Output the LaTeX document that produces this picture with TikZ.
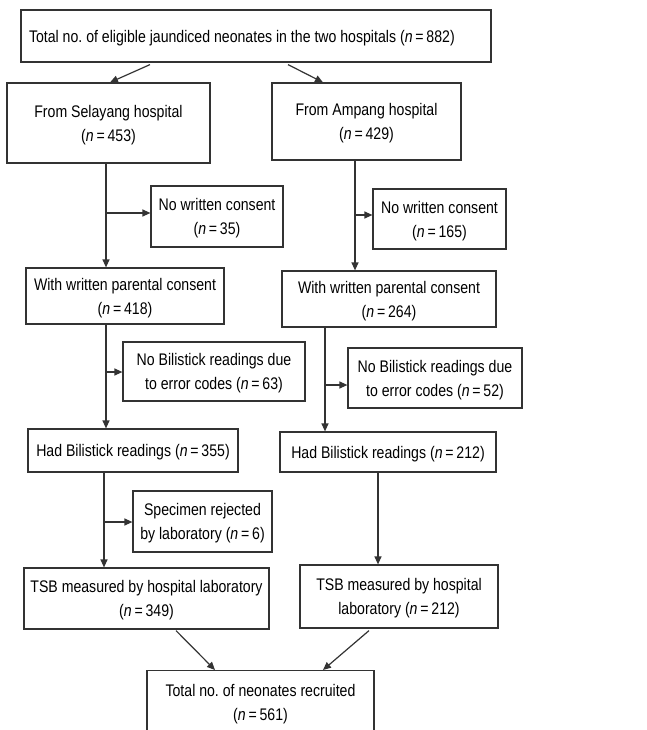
\documentclass[tikz,border=0pt]{standalone}
\usepackage{fontspec}
\setmainfont{Liberation Sans}[FakeStretch=0.84]
\usetikzlibrary{arrows.meta}
\begin{document}
\frenchspacing
\begin{tikzpicture}[x=1pt,y=-1pt,
  box/.style={draw=black!80, line width=1.2pt, align=center, inner sep=0pt, text depth=0pt, font=\fontsize{16.8}{24}\selectfont},
  lower/.style={text depth=-8pt},
  arr/.style={draw=black!80, line width=1.2pt, -{Triangle[length=8pt,width=7pt]}}]
\useasboundingbox (0,0) rectangle (646,730);
\clip (0,0) rectangle (646,730);
\newcommand{\nn}{(\textit{n}\,=\,}
% boxes
\node[box, minimum height=52, text width=454pt, inner xsep=8pt, align=flush left] (top) at (256,36) {Total no. of eligible jaundiced neonates in the two hospitals \nn882)};
\node[box, lower, minimum width=203, minimum height=80] (sel) at (108.5,123) {From Selayang hospital\\\nn453)};
\node[box, lower, minimum width=189, minimum height=77] (amp) at (366.5,121.5) {From Ampang hospital\\\nn429)};
\node[box, minimum width=132, minimum height=61] (nw1) at (217,216.5) {No written consent\\\nn35)};
\node[box, minimum width=133, minimum height=60] (nw2) at (439.5,219) {No written consent\\\nn165)};
\node[box, text depth=-5pt, minimum width=198, minimum height=56] (con1) at (125,296) {With written parental consent\\\nn418)};
\node[box, minimum width=214, minimum height=56] (con2) at (389,299) {With written parental consent\\\nn264)};
\node[box, minimum width=182, minimum height=59] (nb1) at (214,371.5) {No Bilistick readings due\\to error codes \nn63)};
\node[box, minimum width=174, minimum height=60] (nb2) at (435,378) {No Bilistick readings due\\to error codes \nn52)};
\node[box, minimum width=210, minimum height=43] (had1) at (133,450.5) {Had Bilistick readings \nn355)};
\node[box, minimum width=216, minimum height=40] (had2) at (388,452) {Had Bilistick readings \nn212)};
\node[box, minimum width=139, minimum height=61] (rej) at (202.5,521.5) {Specimen rejected\\by laboratory \nn6)};
\node[box, minimum width=245, minimum height=61] (tsb1) at (146.5,598.5) {TSB measured by hospital laboratory\\\nn349)};
\node[box, minimum width=198, minimum height=63] (tsb2) at (399,596.5) {TSB measured by hospital\\laboratory \nn212)};
\node[box, minimum width=227, minimum height=100, anchor=north] (fin) at (260.5,670) {};
\node[box, draw=none] (fintext) at (260.5,702) {Total no. of neonates recruited\\\nn561)};
% diagonal arrows
\draw[arr] ([xshift=-106pt,yshift=-2pt]top.south) -- ([xshift=1.5pt]sel.north);
\draw[arr] ([xshift=32pt,yshift=-2pt]top.south) -- ([xshift=-43.5pt]amp.north);
\draw[arr] ([xshift=29.5pt,yshift=-1pt]tsb1.south) -- ([xshift=-45.5pt]fin.north);
\draw[arr] ([xshift=-30pt,yshift=-2pt]tsb2.south) -- ([xshift=62.5pt]fin.north);
% verticals and branches
\coordinate (b1) at (106,213);
\coordinate (b2) at (355,215);
\coordinate (b3) at (106,372);
\coordinate (b4) at (325,385);
\coordinate (b5) at (104,522);
\coordinate (v6) at (378,0);
\draw[arr] (b1 |- sel.south) -- (b1 |- con1.north);
\draw[arr] (b1) -- (b1 -| nw1.west);
\draw[arr] (b2 |- amp.south) -- (b2 |- con2.north);
\draw[arr] (b2) -- (b2 -| nw2.west);
\draw[arr] (b3 |- con1.south) -- (b3 |- had1.north);
\draw[arr] (b3) -- (b3 -| nb1.west);
\draw[arr] (b4 |- con2.south) -- (b4 |- had2.north);
\draw[arr] (b4) -- (b4 -| nb2.west);
\draw[arr] (b5 |- had1.south) -- (b5 |- tsb1.north);
\draw[arr] (b5) -- (b5 -| rej.west);
\draw[arr] (v6 |- had2.south) -- (v6 |- tsb2.north);
\end{tikzpicture}
\end{document}
